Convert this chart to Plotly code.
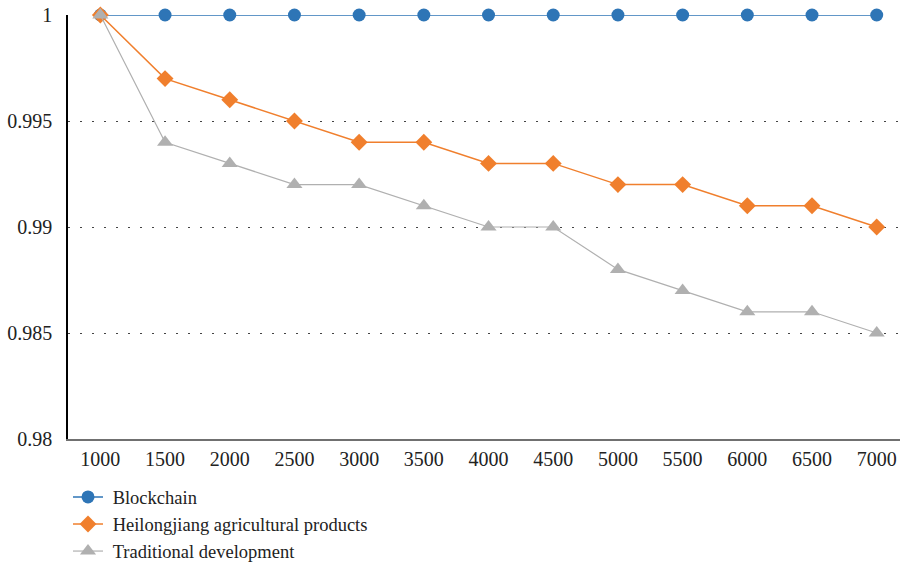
import plotly.graph_objects as go

sizes = ["1000", "1500", "2000", "2500", "3000", "3500", "4000",
         "4500", "5000", "5500", "6000", "6500", "7000"]
blockchain = [1.0] * 13
heilongjiang = [1.0, 0.997, 0.996, 0.995, 0.994, 0.994, 0.993,
                0.993, 0.992, 0.992, 0.991, 0.991, 0.990]
traditional = [1.0, 0.994, 0.993, 0.992, 0.992, 0.991, 0.990,
               0.990, 0.988, 0.987, 0.986, 0.986, 0.985]

FONT = "Liberation Serif"
NB = "\u00a0"

fig = go.Figure()
fig.add_trace(go.Scatter(
    x=sizes, y=blockchain, name=NB + "Blockchain", mode="lines+markers",
    line=dict(color="#2E75B6", width=1.5),
    marker=dict(symbol="circle", size=13, color="#2E75B6"),
    cliponaxis=False))
fig.add_trace(go.Scatter(
    x=sizes, y=heilongjiang,
    name=NB + "Heilongjiang agricultural products",
    mode="lines+markers",
    line=dict(color="#F07F2D", width=1.5),
    marker=dict(symbol="diamond", size=13, color="#F07F2D"),
    cliponaxis=False))
fig.add_trace(go.Scatter(
    x=sizes, y=traditional, name=NB + "Traditional development",
    mode="lines+markers",
    line=dict(color="#B0B0B0", width=1.2),
    marker=dict(symbol="triangle-up", size=14, color="#B0B0B0"),
    cliponaxis=False))

fig.update_layout(
    width=900, height=567,
    margin=dict(l=68, r=0, t=15, b=128, autoexpand=False),
    paper_bgcolor="white", plot_bgcolor="white",
    font=dict(family=FONT, size=20, color="#222222"),
    showlegend=True,
    legend=dict(x=0.0, y=-0.093, xanchor="left", yanchor="top",
                orientation="v", tracegroupgap=0,
                font=dict(family=FONT, size=18.5, color="#222222"),
                itemwidth=30),
    xaxis=dict(
        type="category", range=[-0.5, 12.36],
        showgrid=False, showline=True, linecolor="#707070", linewidth=2,
        ticks="", ticklen=0, ticklabelstandoff=1,
        tickfont=dict(family=FONT, size=20),
    ),
    yaxis=dict(
        range=[0.98, 1.0], tickvals=[0.98, 0.985, 0.99, 0.995, 1.0],
        ticktext=["0.98", "0.985", "0.99", "0.995", "1"],
        showgrid=True, gridcolor="#444444", griddash="1.5px,10.5px",
        gridwidth=1.2,
        showline=True, linecolor="black", linewidth=1.5,
        zeroline=False, ticks="", ticklen=0, ticklabelstandoff=10,
        tickfont=dict(family=FONT, size=20),
    ),
)

fig.write_html("out.html")
